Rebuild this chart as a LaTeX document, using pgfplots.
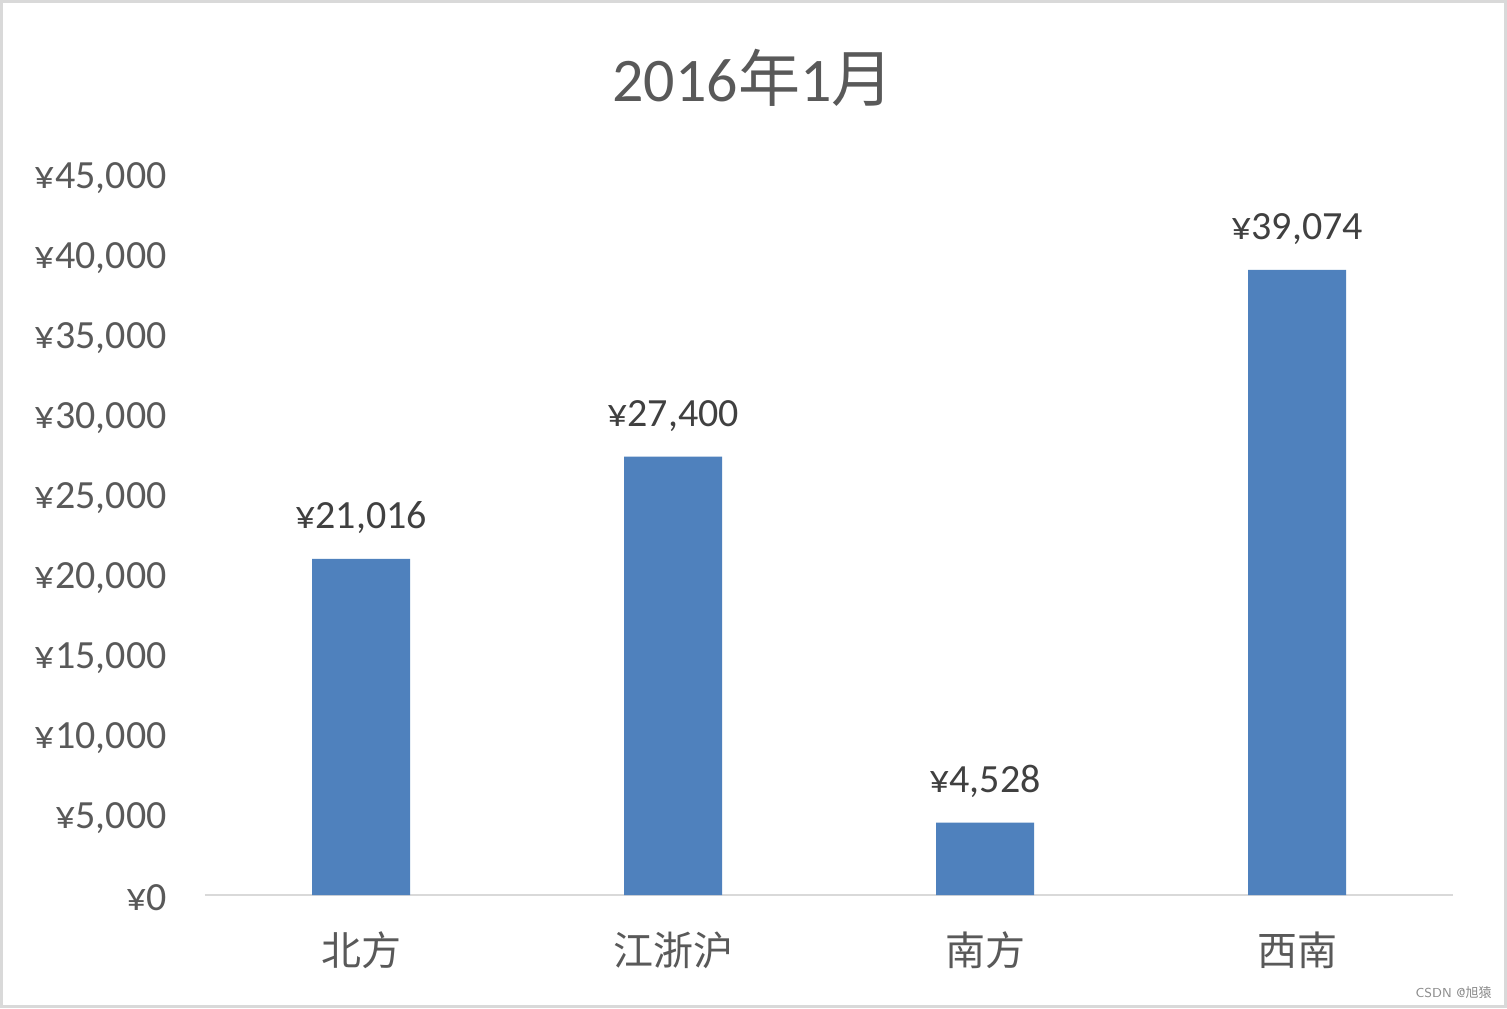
\documentclass[border=0pt]{standalone}
\usepackage{fontspec}
\setmainfont{Carlito}
\newfontfamily\cjk{Noto Sans CJK SC}
\usepackage{pgfplots}
\pgfplotsset{compat=1.18}
\definecolor{txt}{HTML}{595959}
\definecolor{lbl}{HTML}{404040}
\definecolor{bar}{HTML}{4F81BD}
\definecolor{frm}{HTML}{D9D9D9}
\begin{document}
\begin{tikzpicture}
\useasboundingbox (-102.5pt,-56.5pt) rectangle (651pt,447.5pt);
\fill[white] (-102.5pt,-56.5pt) rectangle (651pt,447.5pt);
\draw[frm, line width=1.5pt] (-101.75pt,-55.75pt) rectangle (650.25pt,446.75pt);
\begin{axis}[
  at={(0,0)}, anchor=south west,
  scale only axis, width=624pt, height=360pt,
  xmin=-0.5, xmax=3.5, ymin=0, ymax=45000,
  ybar, bar width=49pt,
  axis x line=bottom, axis y line=left,
  x axis line style={draw=frm, line width=1.2pt, -},
  y axis line style={draw=none},
  major tick length=0pt,
  xtick={0,1,2,3},
  xticklabels={{\cjk 北方},{\cjk 江浙沪},{\cjk 南方},{\cjk 西南}},
  xticklabel style={anchor=center, yshift=-27.5pt, inner sep=0pt, font=\fontsize{20}{24}\selectfont, text=txt},
  ytick={0,5000,...,45000},
  yticklabel={¥\pgfmathprintnumber{\tick}},
  yticklabel style={anchor=east, xshift=-19pt, yshift=-1.5pt, inner sep=0pt, font=\fontsize{20}{24}\selectfont, text=txt},
  /pgf/number format/.cd, fixed, precision=0, 1000 sep={,}, assume math mode=true,
  /pgfplots/.cd,
  scaled y ticks=false,
  clip=false,
  nodes near coords={¥\pgfmathprintnumber{\pgfplotspointmeta}},
  nodes near coords style={anchor=center, yshift=20.5pt, inner sep=0pt, font=\fontsize{20}{24}\selectfont, text=lbl},
]
\addplot[fill=bar, draw=none] coordinates {(0,21016) (1,27400) (2,4528) (3,39074)};
\end{axis}
\node[text=txt, font=\fontsize{31}{37}\selectfont] at (274pt,408.5pt) {2016{\cjk 年}1{\cjk 月}};
\node[anchor=east, text=txt!70, font=\fontsize{6.5}{8}\selectfont\sffamily, inner sep=0pt] at (643.5pt,-49pt) {CSDN @{\cjk 旭猿}};
\end{tikzpicture}
\end{document}
